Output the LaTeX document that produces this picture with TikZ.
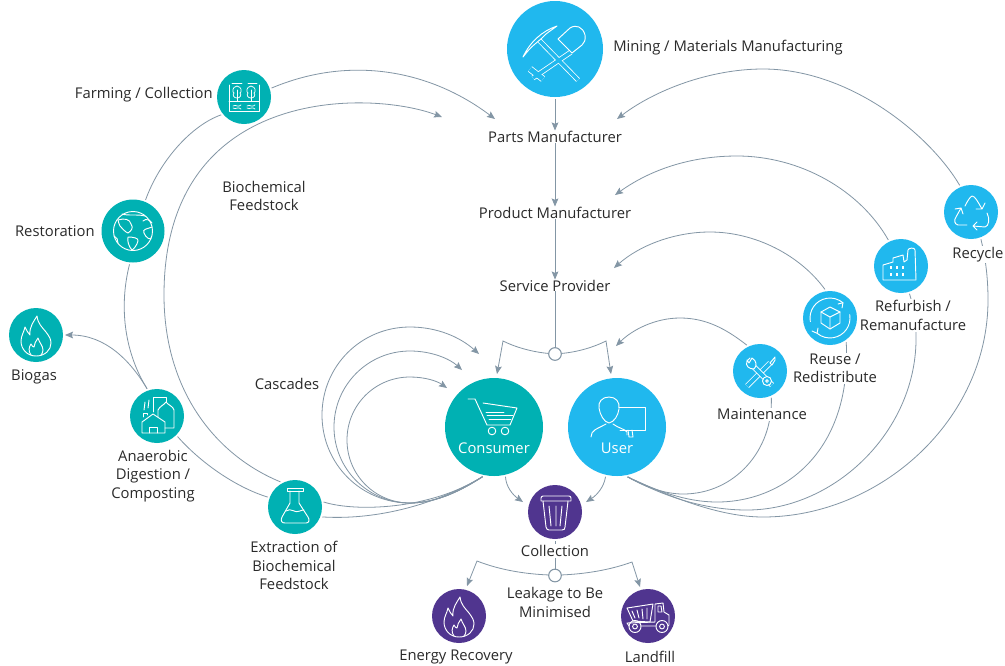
\documentclass[tikz,border=0pt]{standalone}
\usepackage{fontspec}
\setmainfont{Open Sans}
\usetikzlibrary{arrows.meta}
\definecolor{tealc}{HTML}{00B1B3}
\definecolor{bluec}{HTML}{20B8EE}
\definecolor{purc}{HTML}{50358F}
\definecolor{linec}{HTML}{8396A5}
\definecolor{ink}{HTML}{2A2A2A}
\tikzset{
  disc/.style={circle,inner sep=0pt,outer sep=1.5pt,minimum size=#1*0.75pt},
  tdisc/.style={disc=#1,fill=tealc},
  bdisc/.style={disc=#1,fill=bluec},
  pdisc/.style={disc=#1,fill=purc},
  lbl/.style={font=\fontsize{11.1}{13.9}\selectfont,text=ink,align=center,inner sep=0pt},
  lblw/.style={lbl,fill=white,inner sep=1pt},
  inlbl/.style={font=\fontsize{11.1}{13.9}\selectfont,text=white,align=center,inner sep=0pt},
  conn/.style={draw=linec,line width=0.6pt},
  arr/.style={conn,-{Stealth[length=6pt,width=5pt,inset=1pt]}},
  junc/.style={circle,draw=linec,line width=0.8pt,fill=white,inner sep=0pt,minimum size=9.5pt,outer sep=0pt},
  ico/.style={draw=white,line width=0.7pt,line cap=round,line join=round}
}
\newcommand{\flameicon}[2]{%
\begin{scope}[shift={(#1,#2)}]
\draw[ico] (0,21) .. controls (-9,21) and (-15,14) .. (-15,6) .. controls (-15,1) and (-12,-3) .. (-11,-8) .. controls (-9,-4) and (-8,-2) .. (-6,0) .. controls (-7,-8) and (-2,-14) .. (1,-19) .. controls (2,-11) and (6,-8) .. (10,-3) .. controls (13,1) and (15,4) .. (15,8) .. controls (15,15) and (9,21) .. (0,21);
\draw[ico] (-5,20) .. controls (-8,16) and (-7,12) .. (-5,9) .. controls (-4,11) and (-3,12) .. (-2,12) .. controls (-2,9) and (0,6) .. (2,3) .. controls (3,7) and (7,11) .. (7,15) .. controls (7,17) and (6,19) .. (5,20);
\end{scope}}
\begin{document}
\begin{tikzpicture}[x=0.75pt,y=-0.75pt]
\useasboundingbox (0,0) rectangle (1005,665);
\fill[white] (0,0) rectangle (1005,665);
% discs
\node[bdisc=96] (mine) at (555,49) {};
\node[tdisc=54] (farm) at (244,97) {};
\node[tdisc=63] (rest) at (133,231) {};
\node[tdisc=54] (biog) at (36,335) {};
\node[tdisc=54] (anae) at (157,416) {};
\node[tdisc=54] (extr) at (295,507) {};
\node[tdisc=98] (cons) at (494,427) {};
\node[bdisc=98] (user) at (617,427) {};
\node[pdisc=54] (coll) at (555,512) {};
\node[pdisc=54] (ener) at (459,616) {};
\node[pdisc=54] (land) at (648,616) {};
\node[bdisc=54] (recy) at (971,212) {};
\node[bdisc=54] (refu) at (901,266) {};
\node[bdisc=54] (reus) at (830,318) {};
\node[bdisc=54] (main) at (760,371) {};
% free ends
\coordinate (tparts1) at (495,119);
\coordinate (tparts2) at (442,117);
\coordinate (tparts3) at (617,119);
\coordinate (tprod) at (615,195);
\coordinate (tserv) at (614,268);
\coordinate (tuser) at (616,346);
\coordinate (tc1) at (479,354);
\coordinate (tc2) at (462,370);
\coordinate (tc3) at (447,388);
\coordinate (k1) at (503,341);
\coordinate (k2) at (606,341);
\coordinate (k3) at (477,561);
\coordinate (k4) at (632,562);
\node[junc] (j1) at (555,354) {};
\node[junc] (j2) at (555,575.5) {};
% connectors: left loop
\draw[arr] (farm.18) .. controls (350,55) and (430,70) .. (tparts1);
\draw[conn] (farm.218) .. controls (192,125) and (160,160) .. (rest.68);
\draw[conn] (rest.264) .. controls (118,310) and (126,355) .. (anae.110);
\draw[arr] (anae.110) .. controls (130,360) and (105,335) .. (biog.east);
\draw[conn] (anae.-45) .. controls (200,462) and (235,487) .. (extr.160);
\draw[arr] (extr.120) .. controls (215,455) and (164,390) .. (164,295) .. controls (164,85) and (370,90) .. (tparts2);
\draw[conn] (extr.10) .. controls (355,512) and (430,510) .. (cons.257);
\draw[conn] (extr.-20) .. controls (370,520) and (430,508) .. (cons.257);
% cascades
\draw[arr] (cons.257) .. controls (462,490) and (437,503) .. (410,503) .. controls (361,503) and (322,464) .. (322,415) .. controls (322,366) and (361,327) .. (410,327) .. controls (437,327) and (460,337) .. (tc1);
\draw[arr] (cons.257) .. controls (462,490) and (437,503) .. (410,503) .. controls (368,503) and (334,469) .. (334,427) .. controls (334,385) and (368,351) .. (410,351) .. controls (432,351) and (450,359) .. (tc2);
\draw[arr] (cons.257) .. controls (462,490) and (437,503) .. (410,503) .. controls (375,503) and (347,475) .. (347,440) .. controls (347,405) and (375,377) .. (410,377) .. controls (425,377) and (437,381) .. (tc3);
% right loops
\draw[conn] (user.282) .. controls (645,487) and (665,494) .. (683,494) .. controls (735,494) and (773,450) .. (main.293);
\draw[conn] (user.282) .. controls (655,490) and (685,502) .. (717,502) .. controls (785,502) and (852,450) .. (reus.304);
\draw[conn] (user.282) .. controls (665,497) and (705,510) .. (747,510) .. controls (835,510) and (918,430) .. (916,335) .. controls (916,320) and (913,305) .. (refu.287);
\draw[conn] (user.282) .. controls (670,497) and (720,517) .. (763,517) .. controls (880,517) and (988,420) .. (988,300) .. controls (988,280) and (986,260) .. (recy.290);
\draw[arr] (main.117) .. controls (725,328) and (705,318) .. (680,318) .. controls (655,318) and (632,330) .. (tuser);
\draw[arr] (reus.100) .. controls (800,255) and (755,232) .. (710,232) .. controls (675,232) and (640,245) .. (tserv);
\draw[arr] (refu.116) .. controls (860,190) and (800,156) .. (737,156) .. controls (690,156) and (650,170) .. (tprod);
\draw[arr] (recy.113) .. controls (930,135) and (850,69) .. (763,69) .. controls (710,69) and (655,90) .. (tparts3);
% labels
\node[lbl,anchor=west] (lmine) at (613,47.5) {Mining / Materials Manufacturing};
\node[lbl,anchor=east] (lfarm) at (213,94.5) {Farming / Collection};
\node[lbl,anchor=east] (lrest) at (95,231.5) {Restoration};
\node[lbl] (lbiog) at (34,376.5) {Biogas};
\node[lbl] (lfeed) at (264,196) {Biochemical\\Feedstock};
\node[lbl] (lcasc) at (287,383.5) {Cascades};
\node[lbl] (lanae) at (153,476) {Anaerobic\\Digestion /\\Composting};
\node[lbl] (lextr) at (294,565.5) {Extraction of\\Biochemical\\Feedstock};
\node[lbl] (lpart) at (555,136.5) {Parts Manufacturer};
\node[lbl] (lprod) at (555,212.5) {Product Manufacturer};
\node[lbl] (lserv) at (555,285.5) {Service Provider};
\node[lblw] (lrecy) at (978,254.5) {Recycle};
\node[lblw] (lrefu) at (913,315.5) {Refurbish /\\Remanufacture};
\node[lblw] (lreus) at (835,368.5) {Reuse /\\Redistribute};
\node[lblw] (lmain) at (762,414.5) {Maintenance};
\node[lblw] (lcoll) at (555,551) {Collection};
\node[lbl] (lleak) at (555,602.5) {Leakage to Be\\Minimised};
\node[lbl] (lener) at (456,656.5) {Energy Recovery};
\node[lbl] (lland) at (650,656.5) {Landfill};
% trunk
\draw[arr] (mine.south) -- (lpart.north);
\draw[arr] (lpart.south) -- (lprod.north);
\draw[arr] (lprod.south) -- (lserv.north);
\draw[conn] (lserv.south) -- (j1.north);
\draw[arr] (j1.175) .. controls (532,352) and (515,347) .. (k1) -- (497,374);
\draw[arr] (j1.5) .. controls (578,352) and (594,347) .. (k2) -- (611,374);
\draw[arr] (cons.283) .. controls (506,487) and (513,495) .. (523,502);
\draw[arr] (user.257) .. controls (604,487) and (597,495) .. (586,502);
\draw[conn] (coll.south) -- (lcoll.north);
\draw[conn] (lcoll.south) -- (j2.north);
\draw[arr] (j2.175) .. controls (525,574) and (500,570) .. (k3) -- (467,586);
\draw[arr] (j2.5) .. controls (585,574) and (610,570) .. (k4) -- (640,587);
% inner labels
\node[inlbl] (lcons) at (494,448) {Consumer};
\node[inlbl] (luser) at (617,448) {User};
% --- icons ---
% mining
\draw[white,line width=3.8pt,line cap=butt] (537,38) -- (578,80);
\draw[white,line width=3.8pt] (571,52) -- (533,78);
\draw[white,line width=5pt] (530,69) -- (543,79);
\draw[bluec,line width=2.6pt] (537,38) -- (578,80);
\draw[bluec,line width=2.6pt] (571,52) -- (533,78);
\draw[bluec,line width=3.8pt] (530,69) -- (543,79);
\draw[ico,fill=bluec] (558,39) -- (570,28) .. controls (576,24) and (583,27) .. (585,35) .. controls (586,40) and (584,43) .. (582,45) -- (572,53) -- cycle;
\draw[ico,fill=bluec] (557,26) .. controls (542,31) and (530,42) .. (523,57) .. controls (527,52) and (530,48) .. (535,44) -- (542,38) .. controls (546,33) and (552,30) .. (557,26);
% farm
\draw[ico,line width=0.55pt] (229,85) -- (229,111) -- (259,111) -- (259,85);
\draw[ico,line width=0.55pt] (232,83) -- (242,83) (248,83) -- (257,83) (229,101) -- (259,101);
\foreach \t in {237,251}{
 \draw[ico,line width=0.55pt] (\t,86) .. controls (\t+5,87) and (\t+5,92) .. (\t+3,93) .. controls (\t+5,95) and (\t+3,98) .. (\t,98) .. controls (\t-3,98) and (\t-5,95) .. (\t-3,93) .. controls (\t-5,92) and (\t-5,87) .. (\t,86);
 \draw[ico,line width=0.55pt] (\t,90) -- (\t,101);
 \draw[ico,line width=0.55pt] (\t-4,106) .. controls (\t-1,104) and (\t+1,108) .. (\t+4,105) (\t-4,108) .. controls (\t-1,110) and (\t+1,106) .. (\t+4,109);
}
% globe
\draw[ico] (133,231) circle (19.5);
\draw[ico] (118,220) .. controls (124,218) and (130,219) .. (131,224) .. controls (134,228) and (131,231) .. (128,233) .. controls (125,232) and (122,228) .. (120,226) .. controls (119,223) and (118,222) .. (118,220);
\draw[ico] (128,237) .. controls (133,237) and (139,238) .. (138,241) .. controls (137,245) and (134,249) .. (132,250) .. controls (129,247) and (127,241) .. (128,237);
\draw[ico] (143,221) .. controls (146,218) and (150,220) .. (152,223) (152,227) .. controls (147,229) and (142,229) .. (144,233) .. controls (146,238) and (150,240) .. (151,238);
\draw[ico] (122,214) .. controls (128,216) and (138,214) .. (145,216);
\draw[ico] (114,236) .. controls (117,237) and (118,240) .. (118,243);
% biogas and energy
\flameicon{36}{335}
\flameicon{459}{616}
% anaerobic
\draw[ico] (142,433) -- (142,422) -- (153,414) -- (165,422) -- (165,433) -- cycle;
\draw[ico] (149,433) -- (149,427) -- (157,427) -- (157,433);
\draw[ico] (143,417) -- (143,413) -- (147,413) -- (147,415);
\draw[ico] (158,417) -- (158,410) .. controls (160,406) and (164,405) .. (166,402) .. controls (168,405) and (173,406) .. (174,410) -- (174,428) -- (165,428);
\draw[ico] (153,412) -- (153,397) -- (166,397) -- (166,402);
\draw[ico] (144,410) .. controls (146,407) and (143,405) .. (145,402) (148,408) .. controls (150,405) and (147,403) .. (149,400);
% flask
\draw[ico] (287,488) rectangle (303,491);
\draw[ico] (290,491) -- (290,503) -- (282,517) .. controls (280,521) and (282,523) .. (285,523) -- (306,523) .. controls (309,523) and (310,520) .. (308,517) -- (299,503) -- (299,491);
\draw[ico] (286,511) .. controls (291,507) and (295,514) .. (300,511) .. controls (302,510) and (303,510) .. (304,510);
% cart
\draw[ico] (468,399) -- (475,399) -- (487,425) -- (510,425) -- (517,408) -- (483,403);
\draw[ico] (486,412) -- (504,412) (487,415) -- (513,415) (489,419) -- (511,419);
\draw[ico] (492,431) circle (3.8) (505,431) circle (3.8);
% user
\draw[ico] (609,397) .. controls (602,397) and (598,402) .. (599,408) .. controls (600,415) and (604,422) .. (609,423) .. controls (614,422) and (618,416) .. (619,409) .. controls (620,402) and (616,397) .. (609,397);
\draw[ico] (591,437) .. controls (591,430) and (597,429) .. (606,424) (613,424) .. controls (618,428) and (625,429) .. (627,432) -- (627,435);
\draw[ico] (619,407) -- (645,407) -- (645,430) -- (620,430);
\draw[ico] (628,430) -- (629,437) -- (633,437) -- (632,430);
% trash
\draw[ico] (541,501) -- (541,498) .. controls (541,497) and (542,496) .. (543,496) -- (569,496) .. controls (570,496) and (571,497) .. (571,498) -- (571,501) -- cycle;
\draw[ico] (543,501) -- (546,527) .. controls (546,529) and (548,530) .. (549,530) -- (562,530) .. controls (564,530) and (565,529) .. (565,527) -- (568,501);
\draw[ico] (549,506) -- (551,526) (556,506) -- (556,526) (562,506) -- (560,526);
% truck
\draw[ico] (627,608) -- (653,604) -- (650,622) -- (633,621) -- cycle;
\draw[ico] (632,611) -- (635,618) (637,610) -- (639,618) (642,609) -- (643,619) (647,608) -- (647,619);
\draw[ico] (655,604) -- (663,603) -- (664,612) -- (669,615) -- (669,625) -- (668,626) (656,626) -- (641,626) (629,626) -- (627,623) -- (655,622) (655,622) -- (655,604);
\draw[ico] (658,606) -- (661,606) -- (662,612) -- (658,612) -- cycle;
\draw[ico] (635,626.5) circle (6) (635,626.5) circle (2.4) (662,626.5) circle (6) (662,626.5) circle (2.4);
% recycle
\draw[ico] (965,206) .. controls (968,200) and (970,197) .. (972,196) .. controls (975,196) and (978,202) .. (982,209) (976,209) -- (982,209) -- (985,203);
\draw[ico] (987,213) .. controls (990,219) and (989,226) .. (985,227) -- (973,226) (977,222) -- (973,226) -- (977,230);
\draw[ico] (967,225) -- (958,225) .. controls (954,224) and (954,220) .. (956,217) -- (961,208) (955,209) -- (961,208) -- (963,214);
% factory
\draw[ico] (883,280) -- (883,265) -- (893,262) -- (893,258) -- (903,255) -- (904,262) -- (907,260) -- (908,250) .. controls (908,248) and (915,247) .. (915,250) -- (916,280) -- cycle;
\foreach \a in {890,896,902}{\foreach \b in {266,273}{\fill[white] (\a,\b) rectangle ++(1.5,2.5);}}
% reuse
\draw[ico] (810.3,321.5) arc[start angle=170,end angle=310,radius=20];
\draw[ico] (849.7,314.5) arc[start angle=-10,end angle=130,radius=20];
\draw[ico] (830,307) -- (840,312) -- (840,323) -- (830,329) -- (821,323) -- (821,312) -- cycle;
\draw[ico] (821,312) -- (830,317) -- (840,312) (830,317) -- (830,329);
\draw[ico] (838,304) -- (843,302.7) -- (842,308);
\draw[ico] (812,331) -- (817.1,333.3) -- (818,328);
% tools
\draw[white,line width=4pt] (747,386) -- (770,363);
\draw[bluec,line width=2.8pt] (747,386) -- (770,363);
\draw[ico,fill=bluec] (770,363) -- (775,357) -- (775,360) -- (772,365) -- cycle;
\draw[white,line width=4pt] (753,366) -- (772,385);
\draw[bluec,line width=2.8pt] (753,366) -- (772,385);
\draw[ico,fill=bluec] (750,358) -- (747,361) .. controls (745,366) and (749,369) .. (754,369) .. controls (757,366) and (757,361) .. (752,358) -- (749,363) -- (747,360);
\draw[ico,fill=bluec] (767,381) circle (4.5) (767,381) circle (1.4);
\end{tikzpicture}
\end{document}
